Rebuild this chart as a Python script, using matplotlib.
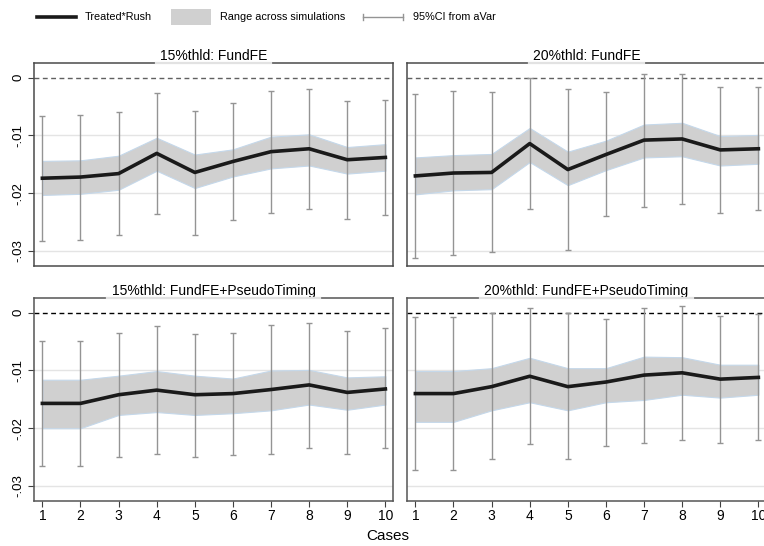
import numpy as np
import matplotlib
matplotlib.use('Agg')
import matplotlib.pyplot as plt
from matplotlib import font_manager
from matplotlib.lines import Line2D
from matplotlib.patches import Rectangle

plt.rcParams['font.family'] = ['Liberation Sans', 'DejaVu Sans']

casos = np.arange(1, 11)

titulos = ['15%thld: FundFE', '20%thld: FundFE',
           '15%thld: FundFE+PseudoTiming', '20%thld: FundFE+PseudoTiming']
etiquetas_leyenda = ['Treated*Rush', 'Range across simulations', '95%CI from aVar']

# coeficiente Treated*Rush por caso
coef_15fe = [-0.0174, -0.0172, -0.0166, -0.0131, -0.0164, -0.0145, -0.0128, -0.0123, -0.0142, -0.0138]
coef_20fe = [-0.0170, -0.0165, -0.0164, -0.0114, -0.0159, -0.0133, -0.0108, -0.0106, -0.0125, -0.0123]
coef_15pt = [-0.0157, -0.0157, -0.0142, -0.0134, -0.0142, -0.0140, -0.0133, -0.0125, -0.0138, -0.0132]
coef_20pt = [-0.0140, -0.0140, -0.0128, -0.0110, -0.0128, -0.0120, -0.0108, -0.0104, -0.0115, -0.0112]

# rango entre simulaciones (máx / mín)
sim_max_15fe = [-0.0144, -0.0143, -0.0135, -0.0104, -0.0133, -0.0124, -0.0102, -0.0098, -0.0120, -0.0115]
sim_min_15fe = [-0.0203, -0.0201, -0.0194, -0.0161, -0.0191, -0.0171, -0.0157, -0.0152, -0.0166, -0.0161]
sim_max_20fe = [-0.0138, -0.0134, -0.0132, -0.0087, -0.0128, -0.0109, -0.0081, -0.0078, -0.0101, -0.0099]
sim_min_20fe = [-0.0202, -0.0195, -0.0193, -0.0146, -0.0186, -0.0160, -0.0138, -0.0136, -0.0152, -0.0149]
sim_max_15pt = [-0.0116, -0.0116, -0.0109, -0.0101, -0.0109, -0.0114, -0.0100, -0.0099, -0.0112, -0.0110]
sim_min_15pt = [-0.0200, -0.0200, -0.0177, -0.0172, -0.0177, -0.0174, -0.0169, -0.0159, -0.0168, -0.0159]
sim_max_20pt = [-0.0101, -0.0101, -0.0096, -0.0078, -0.0096, -0.0096, -0.0076, -0.0077, -0.0090, -0.0090]
sim_min_20pt = [-0.0189, -0.0189, -0.0169, -0.0155, -0.0169, -0.0155, -0.0151, -0.0142, -0.0147, -0.0142]

# IC 95% de la varianza asintótica
ic_hi_15fe = [-0.0066, -0.0064, -0.0059, -0.0026, -0.0057, -0.0043, -0.0023, -0.0020, -0.0040, -0.0038]
ic_lo_15fe = [-0.0283, -0.0281, -0.0273, -0.0236, -0.0272, -0.0247, -0.0235, -0.0228, -0.0245, -0.0238]
ic_hi_20fe = [-0.0028, -0.0023, -0.0025, 0.0000, -0.0019, -0.0024, 0.0007, 0.0007, -0.0016, -0.0016]
ic_lo_20fe = [-0.0312, -0.0307, -0.0301, -0.0228, -0.0298, -0.0240, -0.0223, -0.0218, -0.0234, -0.0229]
ic_hi_15pt = [-0.0049, -0.0049, -0.0035, -0.0023, -0.0036, -0.0035, -0.0021, -0.0018, -0.0032, -0.0027]
ic_lo_15pt = [-0.0265, -0.0265, -0.0249, -0.0245, -0.0249, -0.0247, -0.0245, -0.0235, -0.0244, -0.0235]
ic_hi_20pt = [-0.0007, -0.0007, 0.0000, 0.0008, 0.0000, -0.0010, 0.0009, 0.0011, -0.0005, -0.0003]
ic_lo_20pt = [-0.0272, -0.0272, -0.0254, -0.0228, -0.0254, -0.0231, -0.0226, -0.0220, -0.0226, -0.0220]

paneles = [
    (coef_15fe, sim_max_15fe, sim_min_15fe, ic_hi_15fe, ic_lo_15fe),
    (coef_20fe, sim_max_20fe, sim_min_20fe, ic_hi_20fe, ic_lo_20fe),
    (coef_15pt, sim_max_15pt, sim_min_15pt, ic_hi_15pt, ic_lo_15pt),
    (coef_20pt, sim_max_20pt, sim_min_20pt, ic_hi_20pt, ic_lo_20pt),
]

# fuente estrecha para la leyenda si existe
disponibles = {f.name for f in font_manager.fontManager.ttflist}
if 'Liberation Sans Narrow' in disponibles:
    fuente_ley, tam_ley = ['Liberation Sans Narrow', 'DejaVu Sans'], 9.5
else:
    fuente_ley, tam_ley = ['Liberation Sans', 'DejaVu Sans'], 7.8

W, H = 764, 546
fig = plt.figure(figsize=(W / 100, H / 100), dpi=100)

def px(x, y):
    return x / W, 1 - y / H

# cajas en pixeles: (izq, arriba, der, abajo)
cajas = [(34, 63, 393, 266), (407, 63, 766, 266),
         (34, 298, 393, 501), (407, 298, 766, 501)]

GRIS_IC = '#949494'
COLOR_LINEA = '#1a1a1a'
COLOR_BANDA = '#d0d0d0'
BORDE_BANDA = '#c5d8ea'

ejes, textos = [], []
for i, (caja, datos, titulo) in enumerate(zip(cajas, paneles, titulos)):
    x0, y0, x1, y1 = caja
    ax = fig.add_axes([x0 / W, 1 - y1 / H, (x1 - x0) / W, (y1 - y0) / H])
    coef, smax, smin, ihi, ilo = [np.array(d) for d in datos]
    abajo = i >= 2
    izq = i % 2 == 0

    for g in (-0.01, -0.02, -0.03):
        ax.axhline(g, color='#e4e4e4', lw=1.0, zorder=0)
    ax.axhline(0, color='black' if abajo else '#606060', lw=1.0,
               ls=(0, (3.5, 2.5)), zorder=1)

    ax.fill_between(casos, smin, smax, facecolor=COLOR_BANDA,
                    edgecolor=BORDE_BANDA, lw=0.8, zorder=2)
    ax.errorbar(casos, (ihi + ilo) / 2, yerr=[(ihi - ilo) / 2, (ihi - ilo) / 2],
                fmt='none', ecolor=GRIS_IC, elinewidth=1.0, capsize=2.3,
                capthick=1.0, zorder=3)
    ax.plot(casos, coef, color=COLOR_LINEA, lw=2.6, zorder=4)

    ax.set_xlim(0.78, 10.2)
    ax.set_ylim(-0.0326, 0.00255)
    ax.set_yticks([0, -0.01, -0.02, -0.03])
    ax.set_xticks(casos)
    for s in ax.spines.values():
        s.set_color('#4a4a4a' if not abajo else '#555555')
        s.set_linewidth(1.1)

    if izq:
        ax.set_yticklabels(['0', '-.01', '-.02', '-.03'], rotation=90,
                           va='center', fontsize=9.5)
        ax.tick_params(axis='y', length=4, width=0.8, color='#404040', pad=3)
    else:
        ax.tick_params(axis='y', left=False, labelleft=False)
    if abajo:
        ax.tick_params(axis='x', length=4, width=0.8, color='#404040',
                       labelsize=10, pad=2)
    else:
        ax.tick_params(axis='x', bottom=False, labelbottom=False)

    t = ax.text(0.5, 1.0, titulo, transform=ax.transAxes, ha='center',
                va='bottom', fontsize=10, zorder=10,
                bbox=dict(facecolor='white', edgecolor='none',
                          boxstyle='square,pad=0.3'))
    t.set_clip_on(False)
    ejes.append(ax)
    textos.append(t)

# linea clara bajo cada titulo, sobre el marco superior
fig.canvas.draw()
for ax, t in zip(ejes, textos):
    bb = t.get_bbox_patch().get_window_extent()
    xa = fig.transFigure.inverted().transform([[bb.x0, 0], [bb.x1, 0]])[:, 0]
    ytop = ax.get_position().y1
    fig.add_artist(Line2D(xa, [ytop, ytop], color='#e2e2e2', lw=1.6, zorder=20))

fig.text(*px(388, 536), 'Cases', ha='center', va='center', fontsize=11)

# leyenda dibujada a mano
yl = 17
fig.add_artist(Line2D([px(37, 0)[0], px(76, 0)[0]], [px(0, yl)[1]] * 2,
                      color=COLOR_LINEA, lw=2.6))
fig.add_artist(Rectangle(px(171, yl + 8), 40 / W, 16 / H, facecolor=COLOR_BANDA,
                         edgecolor='none', transform=fig.transFigure))
fig.add_artist(Line2D([px(363, 0)[0], px(403, 0)[0]], [px(0, yl)[1]] * 2,
                      color=GRIS_IC, lw=1.0))
for xc in (363, 403):
    fig.add_artist(Line2D([px(xc, 0)[0]] * 2, [px(0, yl - 3)[1], px(0, yl + 3)[1]],
                          color=GRIS_IC, lw=1.0))
for xt, lab in zip((85, 220, 413), etiquetas_leyenda):
    fig.text(*px(xt, yl), lab, ha='left', va='center', fontsize=tam_ley,
             family=fuente_ley)

fig.savefig('out.png', dpi=100)
